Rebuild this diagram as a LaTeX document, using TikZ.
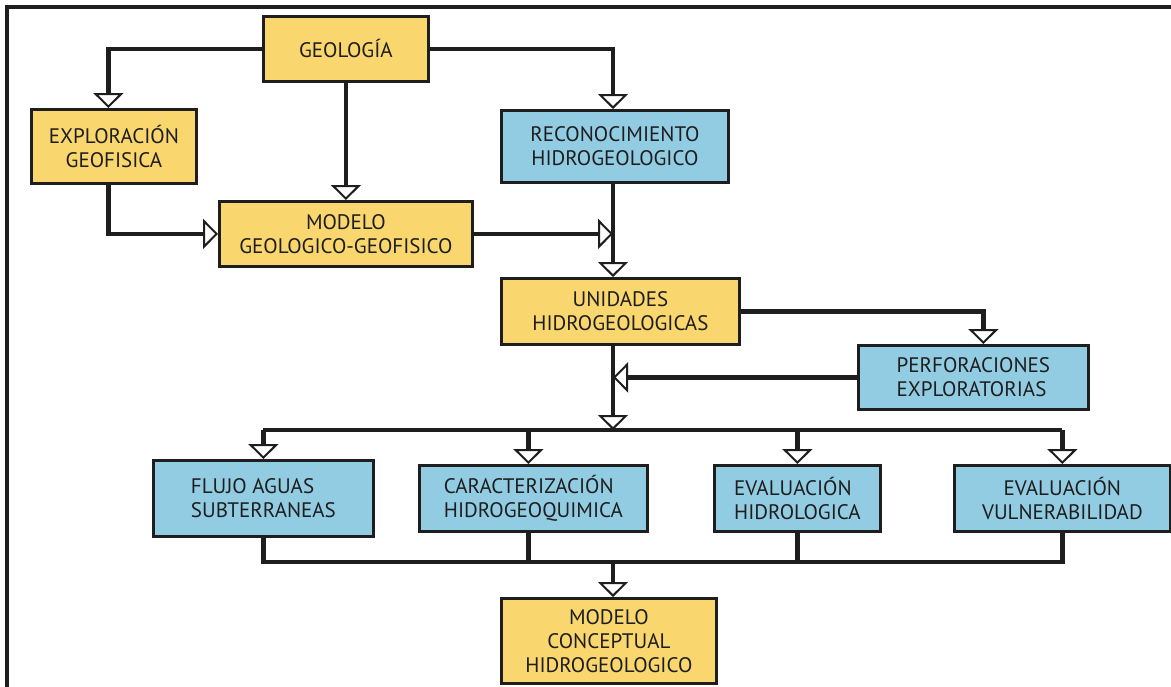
\documentclass[tikz,border=0pt]{standalone}
\usepackage{fontspec}
\setmainfont{PT Sans}
\usetikzlibrary{arrows.meta}
\definecolor{boxyel}{RGB}{249,214,110}
\definecolor{boxblu}{RGB}{146,204,226}
\definecolor{ink}{RGB}{30,30,30}
\begin{document}
\begin{tikzpicture}[x=1pt,y=-1pt,
  box/.style={draw=ink, line width=2.8pt, align=center, font=\fontsize{21}{24}\selectfont, text=ink, inner sep=0pt, anchor=north west},
  yel/.style={box, fill=boxyel},
  blu/.style={box, fill=boxblu},
  conn/.style={draw=ink, line width=4.2pt, line join=miter},
  arr/.style={conn, -{Triangle[length=15pt,width=30pt,line width=2pt,fill=white]}},
]
\useasboundingbox (0,0) rectangle (1171,686);
\fill[white] (0,0) rectangle (1171,686);
\draw[ink, line width=3.5pt] (7,690) -- (7,7) -- (1175,7);

% boxes
\node[yel, minimum width=165pt, minimum height=65pt] (geo) at (262,15) {GEOLOGÍA};
\node[yel, minimum width=165pt, minimum height=74pt] (expl) at (30,108) {EXPLORACIÓN\\GEOFISICA};
\node[yel, minimum width=253pt, minimum height=65pt] (mgg) at (218,200) {MODELO\\GEOLOGICO-GEOFISICO};
\node[blu, minimum width=227pt, minimum height=72pt] (reco) at (500,109) {RECONOCIMIENTO\\HIDROGEOLOGICO};
\node[yel, minimum width=238pt, minimum height=66pt] (uni) at (500,277) {UNIDADES\\HIDROGEOLOGICAS};
\node[blu, minimum width=230pt, minimum height=64pt, align=left] (perf) at (857,344) {PERFORACIONES\\EXPLORATORIAS};
\node[blu, minimum width=220pt, minimum height=76pt, align=left] (flujo) at (152,459) {FLUJO AGUAS\\SUBTERRANEAS};
\node[blu, minimum width=228pt, minimum height=66pt, align=left] (carac) at (418,464) {CARACTERIZACIÓN\\HIDROGEOQUIMICA};
\node[blu, minimum width=166pt, minimum height=66pt, align=left] (hidro) at (713,464) {EVALUACIÓN\\HIDROLOGICA};
\node[blu, minimum width=216pt, minimum height=66pt] (vuln) at (953,464) {EVALUACIÓN\\VULNERABILIDAD};
\node[yel, minimum width=215pt, minimum height=85pt] (mcon) at (500,597) {MODELO\\CONCEPTUAL\\HIDROGEOLOGICO};

\coordinate (bustop) at (613,430);
\coordinate (busbot) at (613,562);

% connectors
\draw[arr] (geo.west) -| ([xshift=-5.5pt]expl.north);
\draw[arr] (geo.east) -| (bustop |- reco.north);
\draw[arr] (geo.south) -- (mgg.north);
\draw[arr] ([xshift=-5.5pt]expl.south) |- (mgg.west);
\draw[arr] (mgg.east) -- (mgg.east -| bustop);
\draw[arr] (bustop |- reco.south) -- (bustop |- uni.north);
\draw[arr] (uni.east) -| ([xshift=10pt]perf.north);
\draw[arr] (perf.west) -- (perf.west -| bustop);
\draw[arr] (bustop |- uni.south) -- (bustop);

\draw[conn] (flujo.north |- bustop) -- (vuln.north |- bustop);
\draw[arr] (flujo.north |- bustop) -- (flujo.north);
\draw[arr] ([xshift=-5pt]carac.north |- bustop) -- ([xshift=-5pt]carac.north);
\draw[arr] (hidro.north |- bustop) -- (hidro.north);
\draw[arr] (vuln.north |- bustop) -- (vuln.north);

\draw[conn] (flujo.south) -- (flujo.south |- busbot) -- (vuln.south |- busbot) -- (vuln.south);
\draw[conn] ([xshift=-5pt]carac.south) -- ([xshift=-5pt]carac.south |- busbot);
\draw[conn] (hidro.south) -- (hidro.south |- busbot);
\draw[arr] (busbot) -- (busbot |- mcon.north);
\end{tikzpicture}
\end{document}
